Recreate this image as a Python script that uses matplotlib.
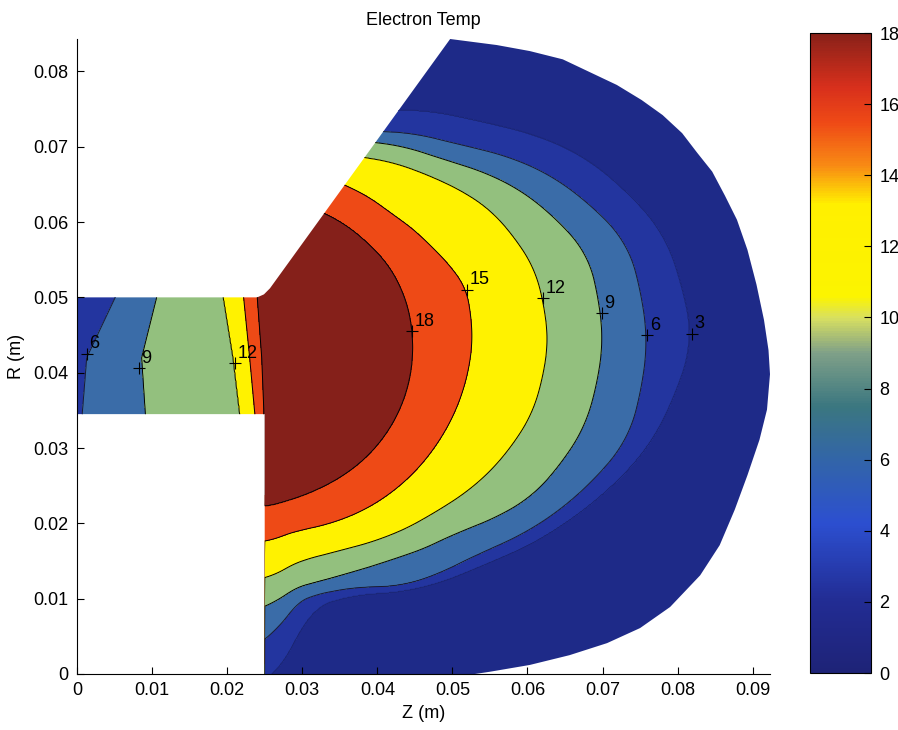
import numpy as np
import matplotlib
matplotlib.use("Agg")
import matplotlib.pyplot as plt
from matplotlib.path import Path
from matplotlib.patches import PathPatch
from matplotlib.colors import LinearSegmentedColormap, Normalize
import matplotlib.cm as cm

plt.rcParams['font.family'] = ['Liberation Sans', 'DejaVu Sans']

# contour levels and fill colours (fill colour = colour of the band's lower level)
levels = [0, 3, 6, 9, 12, 15, 18, 25]
band_colors = ['#1e2a88', '#23359f', '#3a6ca8', '#93c07e', '#fff200', '#ee4a16', '#85201a']

# colorbar gradient
cbar_vals = [0, 2, 4.2, 6, 7.5, 9, 10, 10.6, 13.2, 14.3, 15.5, 16.5, 18]
cbar_cols = ['#1e2377', '#222c93', '#2c4fd0', '#3265a8', '#3b7780', '#7fa088', '#d8e060',
             '#fcf400', '#fff000', '#f88a14', '#ef4a16', '#d8301c', '#8a2119']

# thruster outline (Z, R in m)
outline_z = [0.0, 0.0250, 0.0250, 0.0530, 0.0550, 0.0603, 0.0656, 0.0706, 0.0750, 0.0790,
             0.0830, 0.0856, 0.0876, 0.0893, 0.0909, 0.0919, 0.0923, 0.0921, 0.0915, 0.0905,
             0.0893, 0.0879, 0.0863, 0.0846, 0.0826, 0.0806, 0.0780, 0.0752, 0.0719, 0.0683,
             0.0647, 0.0603, 0.0559, 0.0497, 0.0257, 0.0249, 0.0240, 0.0]
outline_r = [0.0345, 0.0345, 0.0, 0.0, 0.0003, 0.0012, 0.0025, 0.0041, 0.0061, 0.0089,
             0.0131, 0.0171, 0.0218, 0.0264, 0.0311, 0.0351, 0.0398, 0.0430, 0.0470, 0.0517,
             0.0563, 0.0603, 0.0635, 0.0667, 0.0692, 0.0718, 0.0742, 0.0762, 0.0782, 0.0799,
             0.0816, 0.0827, 0.0835, 0.0843, 0.0512, 0.0504, 0.0500, 0.0500]

# chamber: distance from (center_z, center_r) where each level is crossed, per direction
center_z, center_r = 0.025, 0.044
angles = [-90, -85, -80, -70, -60, -45, -30, -15, 0, 15, 30, 45, 64]
radius_18 = [0.0218, 0.0214, 0.0211, 0.0207, 0.0205, 0.0203, 0.0201, 0.0199, 0.0197, 0.0196, 0.0194, 0.0190, 0.0189]
radius_15 = [0.0265, 0.0257, 0.0253, 0.0255, 0.0258, 0.0262, 0.0266, 0.0271, 0.0276, 0.0277, 0.0255, 0.0240, 0.0234]
radius_12 = [0.0315, 0.0300, 0.0292, 0.0293, 0.0302, 0.0319, 0.0345, 0.0368, 0.0377, 0.0372, 0.0348, 0.0311, 0.0274]
radius_9 = [0.0355, 0.0330, 0.0325, 0.0325, 0.0333, 0.0358, 0.0410, 0.0440, 0.0450, 0.0445, 0.0397, 0.0340, 0.0296]
radius_6 = [0.0404, 0.0352, 0.0340, 0.0345, 0.0372, 0.0398, 0.0450, 0.0500, 0.0509, 0.0500, 0.0440, 0.0368, 0.0310]
radius_3 = [0.0460, 0.0400, 0.0355, 0.0355, 0.0380, 0.0415, 0.0470, 0.0530, 0.0569, 0.0550, 0.0490, 0.0410, 0.0340]

# channel: Z where each level is crossed, at three radii
chan_r = [0.0345, 0.042, 0.050]
chan_T0 = [5.8, 5.6, 4.2]
chan_z6 = [0.0007, 0.0013, 0.0051]
chan_z9 = [0.0091, 0.0086, 0.0106]
chan_z12 = [0.0217, 0.0208, 0.0195]
chan_z15 = [0.0237, 0.0230, 0.0222]
chan_z18 = [0.0249, 0.0246, 0.0240]

# inline contour labels
label_text = ['6', '9', '12', '18', '15', '12', '9', '6', '3']
label_z = [0.0013, 0.0082, 0.0210, 0.0446, 0.0519, 0.0621, 0.0699, 0.0759, 0.0819]
label_r = [0.0425, 0.0406, 0.0413, 0.0455, 0.0510, 0.0499, 0.0479, 0.0450, 0.0452]

xticks = [0, 0.01, 0.02, 0.03, 0.04, 0.05, 0.06, 0.07, 0.08, 0.09]
xtick_labels = ['0', '0.01', '0.02', '0.03', '0.04', '0.05', '0.06', '0.07', '0.08', '0.09']
yticks = [0, 0.01, 0.02, 0.03, 0.04, 0.05, 0.06, 0.07, 0.08]
ytick_labels = ['0', '0.01', '0.02', '0.03', '0.04', '0.05', '0.06', '0.07', '0.08']
cbar_ticks = [0, 2, 4, 6, 8, 10, 12, 14, 16, 18]


def piecewise(x, knots_x, knots_v):
    out = np.full(x.shape, float(knots_v[-1]))
    for i in range(len(knots_x) - 1):
        x0, x1 = knots_x[i], knots_x[i + 1]
        m = (x >= x0) & (x < x1)
        v0 = knots_v[i] if np.ndim(knots_v[i]) == 0 else knots_v[i][m]
        out[m] = v0 + (knots_v[i + 1] - v0) * (x[m] - x0[m]) / (x1[m] - x0[m])
    return out


def smooth_radius(ang, rr, width=9):
    # read radii joined linearly, then a moving average to round off the corners
    a_f = np.arange(-110, 85.5, 0.5)
    r_f = np.interp(a_f, angles, rr)
    k = np.ones(int(width / 0.5)) / int(width / 0.5)
    r_s = np.convolve(np.pad(r_f, len(k), mode='edge'), k, mode='same')[len(k):-len(k)]
    return np.interp(ang, a_f, r_s)


Z, R = np.meshgrid(np.linspace(0, 0.0925, 700), np.linspace(0, 0.0845, 640))

# chamber field
ang = np.clip(np.degrees(np.arctan2(R - center_r, Z - center_z)), -90, 64)
dist = np.hypot(Z - center_z, R - center_r)
d_knots = [np.zeros_like(dist)]
for rr in (radius_18, radius_15, radius_12, radius_9, radius_6, radius_3):
    d_knots.append(smooth_radius(ang, rr))
d_knots.append(np.full_like(dist, 0.10))
T = piecewise(dist, d_knots, [21, 18, 15, 12, 9, 6, 3, 0])

# channel field
z_knots = [np.zeros_like(Z)]
for zz in (chan_z6, chan_z9, chan_z12, chan_z15, chan_z18):
    z_knots.append(np.interp(R, chan_r, zz))
z_knots.append(np.full_like(Z, 0.0262))
T_chan = piecewise(Z, z_knots, [np.interp(R, chan_r, chan_T0), 6, 9, 12, 15, 18, 21])
T = np.where(Z < 0.025, T_chan, T)

fig = plt.figure(figsize=(8.98, 7.30), dpi=100)
ax = fig.add_axes([77 / 898, 1 - 674 / 730, 693 / 898, 635 / 730])

outline = PathPatch(Path(np.column_stack([outline_z, outline_r])), transform=ax.transData,
                    fc='none', ec='none')
ax.add_patch(outline)

cs = ax.contourf(Z, R, T, levels=levels, colors=band_colors)
cs.set_clip_path(outline)
cl = ax.contour(Z, R, T, levels=[3, 6, 9, 12, 15, 18],
                colors=['#1a2470', '#1a1a30', 'k', 'k', 'k', 'k'], linewidths=0.7)
cl.set_clip_path(outline)

ax.plot(label_z, label_r, '+', color='k', ms=8, mew=0.8)
for t, zz, rr in zip(label_text, label_z, label_r):
    ax.annotate(t, (zz, rr), xytext=(2, 1), textcoords='offset points',
                ha='left', va='bottom', fontsize=13)

ax.set_xlim(0, 0.0923)
ax.set_ylim(0, 0.0843)
ax.set_xticks(xticks)
ax.set_xticklabels(xtick_labels)
ax.set_yticks(yticks)
ax.set_yticklabels(ytick_labels)
ax.tick_params(direction='in', length=5, labelsize=13, pad=6)
ax.spines['top'].set_visible(False)
ax.spines['right'].set_visible(False)
ax.set_xlabel('Z (m)', fontsize=13, labelpad=4)
ax.set_ylabel('R (m)', fontsize=13, labelpad=6)
ax.set_title('Electron Temp', fontsize=13, pad=10)

cax = fig.add_axes([810 / 898, 1 - 673 / 730, 61 / 898, 640 / 730])
cmap = LinearSegmentedColormap.from_list('bar', list(zip(np.array(cbar_vals) / 18, cbar_cols)))
cb = fig.colorbar(cm.ScalarMappable(norm=Normalize(0, 18), cmap=cmap), cax=cax)
cb.set_ticks(cbar_ticks)
cb.outline.set_linewidth(0.8)
cax.tick_params(direction='in', length=5, labelsize=13, pad=6)

fig.savefig('out.png', dpi=100)
